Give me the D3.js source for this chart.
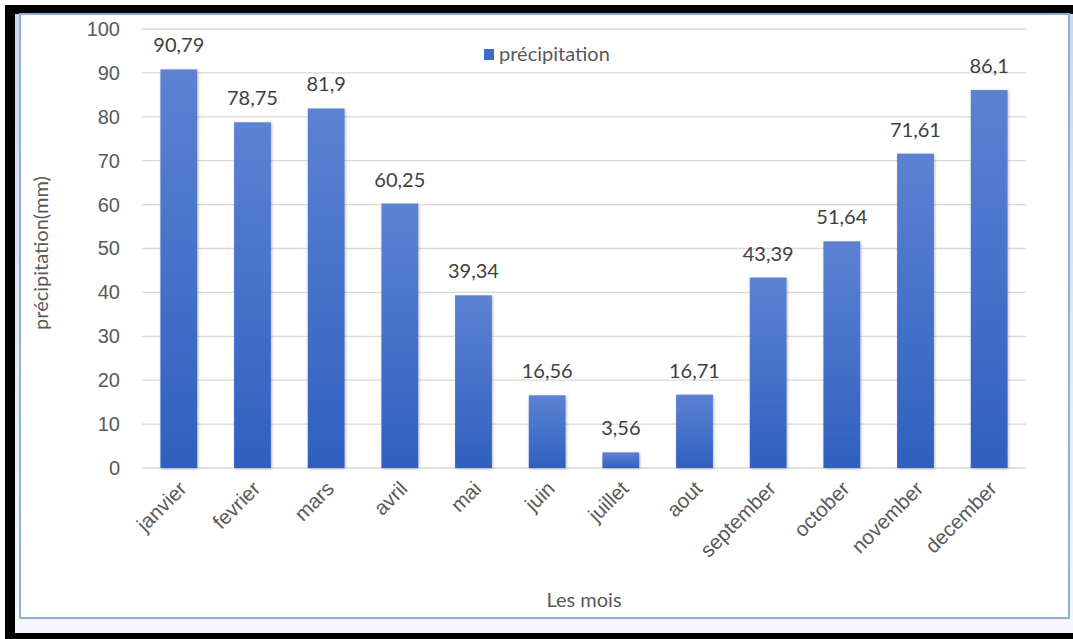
<!DOCTYPE html>
<html>
<head>
<meta charset="utf-8">
<script src="https://cdn.jsdelivr.net/npm/d3@7/dist/d3.min.js"></script>
<style>
  body { margin: 0; background: #fff; }
  svg { display: block; font-family: Lato, "Open Sans", sans-serif; }
</style>
</head>
<body>
<div id="chart"></div>
<script>
// months and rainfall values (mm)
var months = ["janvier", "fevrier", "mars", "avril", "mai", "juin", "juillet", "aout",
              "september", "october", "november", "december"];
var rain = [90.79, 78.75, 81.9, 60.25, 39.34, 16.56, 3.56, 16.71, 43.39, 51.64, 71.61, 86.1];
var valueLabels = ["90,79", "78,75", "81,9", "60,25", "39,34", "16,56", "3,56", "16,71",
                   "43,39", "51,64", "71,61", "86,1"];
var yTicks = [0, 10, 20, 30, 40, 50, 60, 70, 80, 90, 100];
var seriesName = "précipitation";

var W = 1073, H = 639;
var plot = { left: 142, right: 1026, top: 29, bottom: 468 };

var svg = d3.select("#chart").append("svg")
    .attr("width", W)
    .attr("height", H);

var defs = svg.append("defs");
var grad = defs.append("linearGradient")
    .attr("id", "barGrad")
    .attr("x1", 0).attr("y1", 0).attr("x2", 0).attr("y2", 1);
grad.append("stop").attr("offset", "0%").attr("stop-color", "#5c82d2");
grad.append("stop").attr("offset", "100%").attr("stop-color", "#3060c0");

var shadow = defs.append("filter").attr("id", "shadow")
    .attr("x", "-20%").attr("y", "-10%").attr("width", "140%").attr("height", "120%");
shadow.append("feDropShadow")
    .attr("dx", 1).attr("dy", 1).attr("stdDeviation", 1.5)
    .attr("flood-color", "#000").attr("flood-opacity", 0.25);

var shadeGrad = defs.append("linearGradient")
    .attr("id", "shadeGrad")
    .attr("x1", 0).attr("y1", 0).attr("x2", 0).attr("y2", 1);
shadeGrad.append("stop").attr("offset", "0%").attr("stop-color", "#c9d8ea");
shadeGrad.append("stop").attr("offset", "100%").attr("stop-color", "#f4f8fc");

// frame: black outer, light blue inner
svg.append("rect").attr("x", 5).attr("y", 5).attr("width", W - 5).attr("height", H - 5)
    .attr("fill", "#000");
svg.append("rect").attr("x", 15).attr("y", 14).attr("width", W - 15).attr("height", 619)
    .attr("fill", "url(#shadeGrad)");
svg.append("rect").attr("x", 20).attr("y", 14).attr("width", 1049).attr("height", 604)
    .attr("fill", "#fff")
    .attr("stroke", "#8fb0d6")
    .attr("stroke-width", 2);

var x = d3.scaleBand()
    .domain(months)
    .range([plot.left, plot.right])
    .paddingInner(0.5)
    .paddingOuter(0.25);

var y = d3.scaleLinear()
    .domain([0, 100])
    .range([plot.bottom, plot.top]);

// gridlines
svg.append("g")
    .selectAll("line")
    .data(yTicks)
    .enter().append("line")
    .attr("x1", plot.left)
    .attr("x2", plot.right)
    .attr("y1", function(d) { return y(d); })
    .attr("y2", function(d) { return y(d); })
    .attr("stroke", "#d9d9d9")
    .attr("stroke-width", 1.3);

// y axis labels
var yAxis = svg.append("g")
    .attr("transform", "translate(" + plot.left + ",0)")
    .call(d3.axisLeft(y).tickValues(yTicks).tickSize(0).tickPadding(22));
yAxis.select(".domain").remove();
yAxis.selectAll("text")
    .attr("fill", "#595959")
    .style("font-size", "20px");

// bars
svg.append("g")
    .selectAll("rect")
    .data(rain)
    .enter().append("rect")
    .attr("x", function(d, i) { return x(months[i]); })
    .attr("y", function(d) { return y(d); })
    .attr("width", x.bandwidth())
    .attr("height", function(d) { return y(0) - y(d); })
    .attr("fill", "url(#barGrad)")
    .attr("filter", "url(#shadow)");

// value labels
svg.append("g")
    .selectAll("text")
    .data(rain)
    .enter().append("text")
    .attr("x", function(d, i) { return x(months[i]) + x.bandwidth() / 2; })
    .attr("y", function(d) { return y(d) - 17; })
    .attr("text-anchor", "middle")
    .attr("fill", "#404040")
    .style("font-size", "20px")
    .text(function(d, i) { return valueLabels[i]; });

// x axis labels
var xAxis = svg.append("g")
    .attr("transform", "translate(0," + plot.bottom + ")")
    .call(d3.axisBottom(x).tickSize(0).tickPadding(0));
xAxis.select(".domain").remove();
xAxis.selectAll("text")
    .attr("fill", "#595959")
    .style("font-size", "20.5px")
    .attr("text-anchor", "end")
    .attr("dy", 0)
    .attr("transform", "translate(9,22) rotate(-45)");

// axis titles
svg.append("text")
    .attr("transform", "translate(48,253) rotate(-90)")
    .attr("text-anchor", "middle")
    .attr("fill", "#595959")
    .style("font-size", "20px")
    .text("précipitation(mm)");

svg.append("text")
    .attr("x", 584)
    .attr("y", 607)
    .attr("text-anchor", "middle")
    .attr("fill", "#595959")
    .style("font-size", "20px")
    .text("Les mois");

// legend
var legend = svg.append("g").attr("transform", "translate(484,49)");
legend.append("rect")
    .attr("width", 10).attr("height", 11)
    .attr("fill", "#3e6cc8");
legend.append("text")
    .attr("x", 15).attr("y", 12)
    .attr("fill", "#595959")
    .style("font-size", "20px")
    .text(seriesName);
</script>
</body>
</html>
